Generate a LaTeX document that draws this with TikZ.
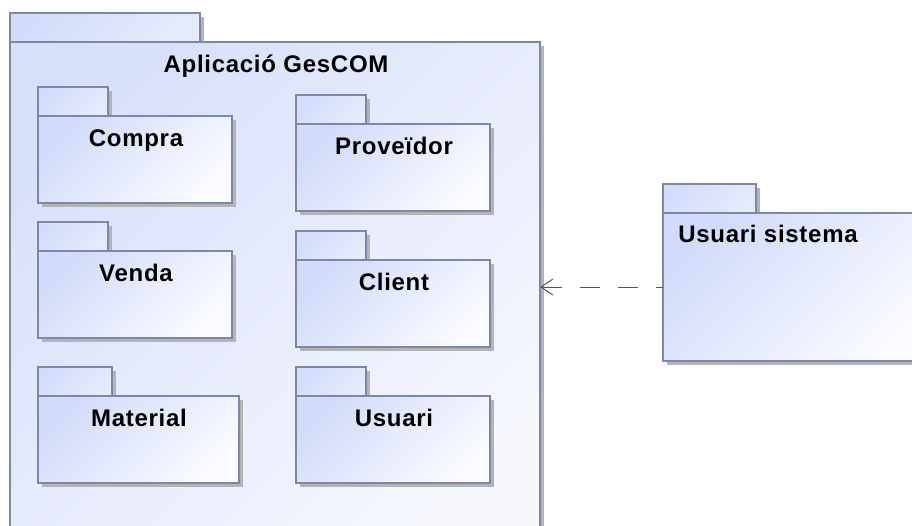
\documentclass[tikz,border=0pt]{standalone}
\usepackage{fontspec}
\setmainfont{Liberation Sans}[LetterSpace=3]
\usetikzlibrary{arrows.meta,shadows}
\definecolor{pkgline}{HTML}{7D87AB}
\definecolor{tabA}{HTML}{D3DCFA}
\definecolor{tabB}{HTML}{E6EBFC}
\definecolor{bodyA}{HTML}{D2DBF9}
\definecolor{bodyB}{HTML}{FAFBFF}
\definecolor{outerA}{HTML}{D9E0FA}
\definecolor{outerB}{HTML}{F6F8FE}
\definecolor{shadowgray}{HTML}{B4B4B4}
\definecolor{deplinecol}{HTML}{555555}
\tikzset{
  pkgshadow/.style={general shadow={shadow xshift=4pt,shadow yshift=-4pt,fill=shadowgray}},
  pkgbox/.style={rectangle, draw=pkgline, line width=1.3pt, inner sep=0pt, outer sep=0pt,
    anchor=north west, pkgshadow},
  pkgtab/.style={pkgbox, top color=tabA, bottom color=tabB, shading angle=45},
  pkgbody/.style={pkgbox, top color=bodyA, bottom color=bodyB, shading angle=45},
  outerbody/.style={pkgbox, line width=1.6pt, top color=outerA, bottom color=outerB, shading angle=45},
  pkglabel/.style={anchor=base, inner sep=0pt, font=\fontsize{24}{28}\selectfont\bfseries},
  depline/.style={draw=deplinecol, line width=1pt, dash pattern=on 20pt off 18pt, dash phase=13pt,
    -{Straight Barb[length=12pt,width=16pt]}}
}
\begin{document}
\begin{tikzpicture}[x=1pt,y=-1pt]
\useasboundingbox (0,0) rectangle (912,525);
\begin{scope}
\clip (0,0) rectangle (912,525);
% outer package
\node[pkgtab, minimum width=190pt, minimum height=29pt] (outertab) at (10,13) {};
\node[outerbody, minimum width=530pt, minimum height=520pt] (outer) at (10,42) {};
\node[pkglabel] (outerlbl) at (276,72) {Aplicació GesCOM};
% Compra
\node[pkgtab, minimum width=70pt, minimum height=29pt] (compratab) at (38,87) {};
\node[pkgbody, minimum width=194pt, minimum height=87pt] (compra) at (38,116) {};
\node[pkglabel] (compralbl) at (136,146) {Compra};
% Venda
\node[pkgtab, minimum width=70pt, minimum height=29pt] (vendatab) at (38,222) {};
\node[pkgbody, minimum width=194pt, minimum height=87pt] (venda) at (38,251) {};
\node[pkglabel] (vendalbl) at (136,281) {Venda};
% Material
\node[pkgtab, minimum width=74pt, minimum height=29pt] (materialtab) at (38,367) {};
\node[pkgbody, minimum width=201pt, minimum height=87pt] (material) at (38,396) {};
\node[pkglabel] (materiallbl) at (139,426) {Material};
% Proveidor
\node[pkgtab, minimum width=70pt, minimum height=29pt] (proveidortab) at (296,95) {};
\node[pkgbody, minimum width=194pt, minimum height=87pt] (proveidor) at (296,124) {};
\node[pkglabel] (proveidorlbl) at (394,154) {Proveïdor};
% Client
\node[pkgtab, minimum width=70pt, minimum height=29pt] (clienttab) at (296,231) {};
\node[pkgbody, minimum width=194pt, minimum height=87pt] (client) at (296,260) {};
\node[pkglabel] (clientlbl) at (394,290) {Client};
% Usuari
\node[pkgtab, minimum width=70pt, minimum height=29pt] (usuaritab) at (296,367) {};
\node[pkgbody, minimum width=194pt, minimum height=87pt] (usuari) at (296,396) {};
\node[pkglabel] (usuarilbl) at (394,426) {Usuari};
% Usuari sistema
\node[pkgtab, minimum width=93pt, minimum height=29pt] (ussistab) at (663,184) {};
\node[pkgbody, minimum width=270pt, minimum height=148pt] (ussis) at (663,213) {};
\node[pkglabel] (ussislbl) at (768,242) {Usuari sistema};
% dependency
\draw[depline] (ussis.west) -- (outer.east |- ussis.west);
\end{scope}
\end{tikzpicture}
\end{document}
